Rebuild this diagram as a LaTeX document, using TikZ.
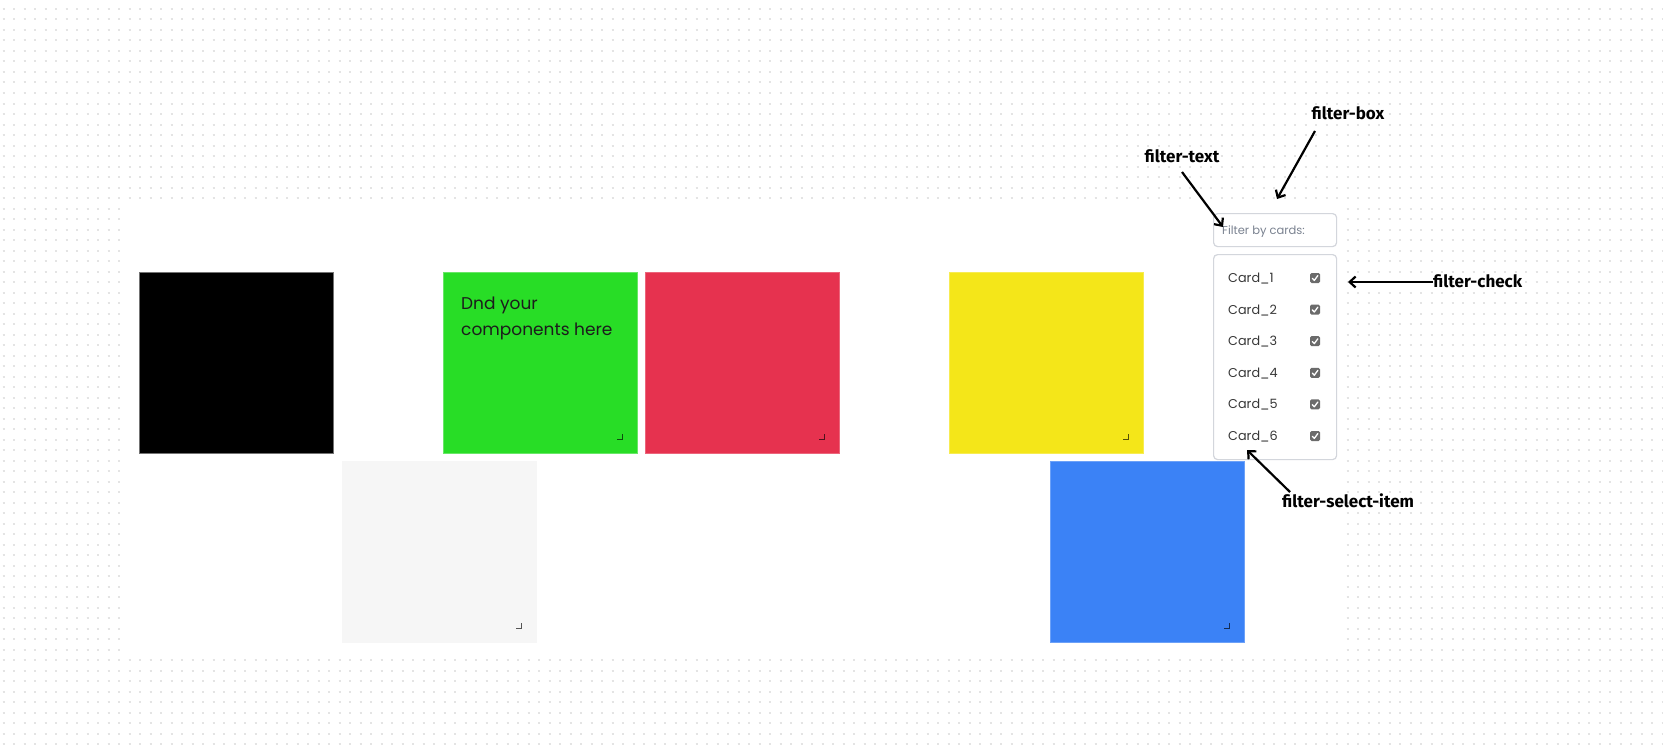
\documentclass[tikz,border=0pt]{standalone}
\usepackage{fontspec}
\newfontfamily\pop{Poppins}
\newfontfamily\labf{Fira Sans}
\usetikzlibrary{arrows.meta,calc}
\definecolor{dotc}{HTML}{E4E4E4}
\definecolor{cgreen}{HTML}{28DD26}
\definecolor{cred}{HTML}{E6324F}
\definecolor{cyellow}{HTML}{F4E619}
\definecolor{cgrey}{HTML}{F6F6F6}
\definecolor{cblue}{HTML}{3B82F6}
\definecolor{boxline}{HTML}{D3D6DC}
\definecolor{phtext}{HTML}{7A8290}
\definecolor{itemtext}{HTML}{383838}
\definecolor{chk}{HTML}{6B6B6B}
\definecolor{dndtext}{HTML}{1C1C1C}
\tikzset{
  card/.style={anchor=north west, minimum width=194pt, minimum height=181pt, inner sep=0pt, outer sep=0pt, line width=0.8pt},
  handle/.style={line width=1pt, draw=black, draw opacity=0.65},
  uibox/.style={anchor=north west, draw=boxline, line width=1.2pt, rounded corners=4pt, fill=white, inner sep=0pt},
  itemlbl/.style={anchor=base west, inner sep=0pt, text=itemtext, font=\pop\fontsize{12.8}{14}\selectfont},
  chkbox/.style={fill=chk, rounded corners=1.5pt},
  lbl/.style={anchor=base, inner sep=0pt, font=\labf\bfseries\fontsize{17}{19}\selectfont},
  arr/.style={line width=2.2pt, -{Straight Barb[length=6pt,width=11pt]}},
  dotrow/.style={draw=dotc, line width=2pt, dash pattern=on 2pt off 8.5pt}
}
\begin{document}
\begin{tikzpicture}[x=1pt,y=-1pt]
\useasboundingbox (0,0) rectangle (1663,752);
\fill[white] (0,0) rectangle (1663,752);
% dot grid
\foreach \j in {0,...,72}{
  \draw[dotrow] (2.5,{-1.5+10.5*\j}) -- (1663,{-1.5+10.5*\j});
}
% panel
\fill[white] (121,202) rectangle (1346,656);
% cards
\node[card, fill=black, draw=black!55] (cblack) at (139,272) {};
\node[card, fill=cgreen, draw=cgreen!70!white] (cgreen) at (443,272) {};
\node[card, fill=cred, draw=cred!75!white] (cred) at (645,272) {};
\node[card, fill=cyellow, draw=cyellow!75!white] (cyellow) at (949,272) {};
\node[card, fill=cgrey, draw=cgrey] (cgrey) at (342,461) {};
\node[card, fill=cblue, draw=cblue!75!white] (cblue) at (1050,461) {};
% resize handles
\foreach \c in {cgreen,cred,cyellow,cgrey,cblue}{
  \draw[handle] ($(\c.south east)+(-20,-14)$) -- ++(5,0) -- ++(0,-5);
}
% green card text
\node[anchor=base west, inner sep=0pt, text=dndtext, font=\pop\fontsize{17}{26}\selectfont] (dnd1) at (461,309) {Dnd your};
\node[anchor=base west, inner sep=0pt, text=dndtext, font=\pop\fontsize{17}{26}\selectfont] (dnd2) at (461,335) {components here};
% filter box
\node[uibox, minimum width=123pt, minimum height=33pt] (fbox) at (1213,213) {};
\node[anchor=base west, inner sep=0pt, text=phtext, font=\pop\fontsize{11.5}{13}\selectfont] (ftext) at (1222,234) {Filter by cards:};
% list box
\node[uibox, minimum width=123pt, minimum height=205pt] (lbox) at (1213,254) {};
\foreach \k in {1,...,6}{
  \pgfmathsetmacro{\yy}{278+31.6*(\k-1)}
  \node[itemlbl] (item\k) at (1228,\yy+4.5) {Card\_\k};
  \fill[chkbox] (1310,\yy-5) rectangle (1320,\yy+5);
  \draw[white, line width=1.3pt, line cap=round, line join=round] (1312.3,\yy+0.3) -- (1314.3,\yy+2.4) -- (1317.8,\yy-2.4);
}
% labels
\node[lbl] (lfbox) at (1348,119) {filter-box};
\node[lbl] (lftext) at (1182,162) {filter-text};
\node[lbl, anchor=base west] (lfcheck) at (1433,287) {filter-check};
\node[lbl, anchor=base west] (lfitem) at (1282,507) {filter-select-item};
% arrow ends
\coordinate (boxtail) at (1315,131);
\coordinate (boxtip) at (1277,199);
\coordinate (texttail) at (1182,172);
\coordinate (texttip) at (1223,227);
\coordinate (chktip) at (1348,282);
\coordinate (itemtail) at (1290,492);
\coordinate (itemtip) at (1247,450);
\draw[arr] (boxtail) -- (boxtip);
\draw[arr] (texttail) -- (texttip);
\draw[arr] (lfcheck.west |- chktip) -- (chktip);
\draw[arr] (itemtail) -- (itemtip);
\end{tikzpicture}
\end{document}
